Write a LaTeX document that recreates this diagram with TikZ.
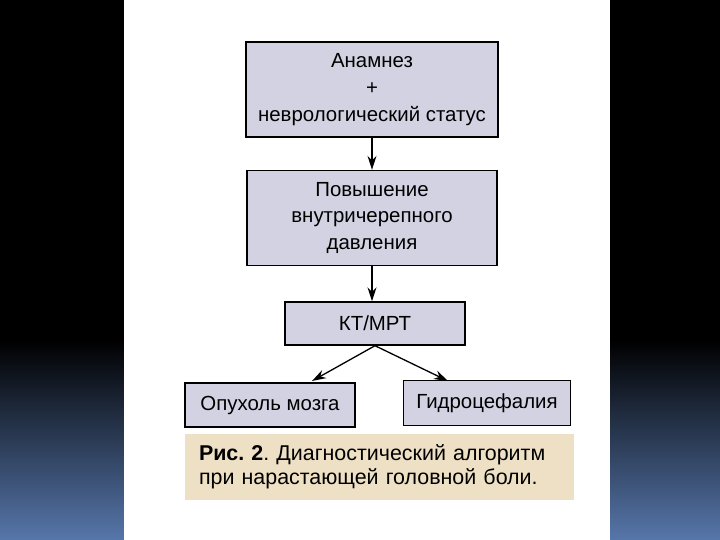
\documentclass[tikz,border=0pt]{standalone}
\usepackage{fontspec}
\setmainfont{Liberation Sans}
\usepackage{xcolor}
\usetikzlibrary{arrows.meta}
\definecolor{slideblue}{HTML}{5676AA}
\definecolor{boxfill}{HTML}{D2D2E2}
\definecolor{capfill}{HTML}{EEE0C4}
\begin{document}
\frenchspacing
\begin{tikzpicture}[x=1bp,y=-1bp,>=Stealth,
  box/.style={draw=black,line width=1.4bp,fill=boxfill,inner sep=0pt,align=center,
    font=\fontsize{20.5}{27}\selectfont},
  arr/.style={line width=1.3bp,-{Stealth[length=14bp,width=9bp]}}]
  \useasboundingbox (0,0) rectangle (720,540);
  \fill[black] (0,0) rectangle (720,540);
  \shade[top color=black,bottom color=slideblue] (0,340) rectangle (720,540);
  \fill[white] (124,0) rectangle (610,540);
  \node[box,minimum width=252bp,minimum height=95bp] (anam) at (372,89.5)
    {Анамнез\\+\\неврологический статус};
  \node[box,minimum width=250bp,minimum height=95bp] (vchd) at (372,218)
    {Повышение\\внутричерепного\\давления};
  \node[box,minimum width=180bp,minimum height=43bp] (ktmrt) at (375,323.5) {КТ/МРТ};
  \node[box,minimum width=170bp,minimum height=44bp] (opuh) at (270,405) {Опухоль мозга};
  \node[box,minimum width=167bp,minimum height=45bp] (gidro) at (487,403) {Гидроцефалия};
  \node[fill=capfill,minimum width=389bp,minimum height=66bp,inner sep=0pt,
    text width=360bp,align=left,font=\fontsize{21.5}{24}\selectfont] (caption) at (379,467)
    {\textbf{Рис. 2}. Диагностический алгоритм\\при нарастающей головной боли.};
  \coordinate (tipL) at (312,381);
  \coordinate (tipR) at (448,381);
  \draw[arr] (anam.south) -- (vchd.north);
  \draw[arr] (vchd.south) -- (vchd.south |- ktmrt.north);
  \draw[arr] (ktmrt.south) -- (tipL);
  \draw[arr] (ktmrt.south) -- (tipR);
\end{tikzpicture}
\end{document}
